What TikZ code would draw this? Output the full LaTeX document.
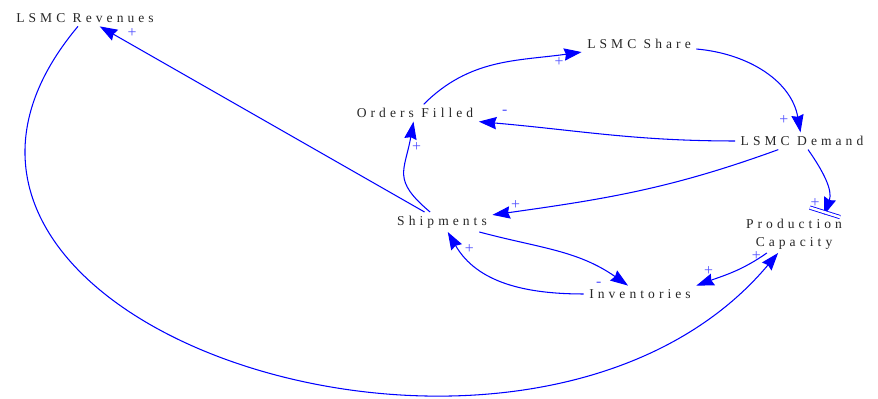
\documentclass[tikz,border=0pt]{standalone}
\usepackage{fontspec}
\setmainfont{Liberation Serif}
\newfontfamily\spacedfont[LetterSpace=30]{Liberation Serif}
\usepackage{xcolor}
\usepackage{tikz}
\usetikzlibrary{arrows.meta,decorations.markings}
\definecolor{linkblue}{RGB}{0,0,255}
\definecolor{signblue}{RGB}{80,80,255}
\tikzset{var/.style={inner xsep=3pt,inner ysep=2pt,font=\spacedfont\fontsize{7.7}{10.2}\selectfont,text=black!85,align=center}}
\tikzset{link/.style={draw=linkblue,line width=0.6pt,-{Stealth[length=10pt,width=7pt,inset=1pt]}}}
\tikzset{pol/.style={text=signblue,font=\fontsize{9}{9}\selectfont,inner sep=1pt}}
\tikzset{delaymark/.style={postaction={decorate,decoration={markings,mark=at position #1 with {\draw[-,draw=linkblue,double=white,line width=0.5pt,double distance=1.4pt] (0,-9pt)--(0,9pt);}}}}}

\begin{document}
\begin{tikzpicture}
    \useasboundingbox (0,0) rectangle (17.56,7.98);

    \node[var] (rev) at (1.70,7.62) {LSMC Revenues};
    \node[var] (share) at (12.78,7.10) {LSMC Share};
    \node[var] (orders) at (8.30,5.72) {Orders Filled};
    \node[var] (demand) at (16.04,5.16) {LSMC Demand};
    \node[var] (ship) at (8.84,3.54) {Shipments};
    \node[var] (cap) at (15.88,3.30) {Production\\Capacity};
    \node[var] (inv) at (12.80,2.10) {Inventories};

    \draw [link] (ship) to [] node[pol,pos=0.9,above=3pt]{+} (rev);
    \draw [link] (ship) to [out=140,in=-100,looseness=1.4] node[pol,pos=0.8,right=1pt]{+} (orders);
    \draw [link] (orders) to [out=45,in=188] node[pol,pos=0.88,below]{+} (share);
    \draw [link] (share) to [out=-5,in=100] node[pol,pos=0.92,left=4pt]{+} (demand);
    \draw [link] (demand.west) to [out=180,in=-5] node[pol,pos=0.91,above=4pt]{-} (orders.south east);
    \draw [link] (demand) to [out=200,in=8] node[pol,pos=0.93,above]{+} (ship);
    \draw [link,delaymark=0.96] (demand) to [out=-55,in=70] node[pol,pos=0.83,left=3pt]{+} ([xshift=0.6cm]cap.north);
    \draw [link] (cap) to [out=-145,in=20] node[pol,pos=0.85,above=2pt]{+} (inv.north east);
    \draw [link] (rev) to [out=-130,in=-130,looseness=1.35] node[pol,pos=0.985,above left=2pt]{+} (cap);
    \draw [link] (ship) to [out=-15,in=145] node[pol,pos=0.8,below=7pt]{-} (inv);
    \draw [link] (inv) to [out=180,in=-60] node[pol,pos=0.88,right=2pt]{+} (ship);
\end{tikzpicture}
\end{document}
